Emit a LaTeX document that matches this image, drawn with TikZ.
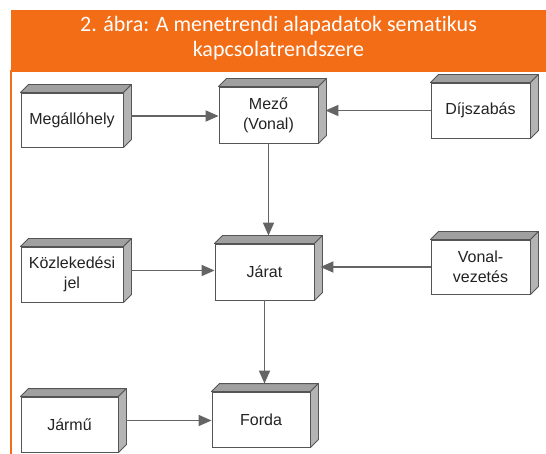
\documentclass[tikz,border=0pt]{standalone}
\usepackage{fontspec}
\setmainfont{Liberation Sans}
\newfontfamily\titlefont[Ligatures={NoCommon}]{Carlito}
\usetikzlibrary{arrows.meta}
\definecolor{hdr}{RGB}{243,108,22}
\definecolor{boxline}{RGB}{85,85,85}
\definecolor{topgray}{RGB}{160,160,160}
\definecolor{sidegray}{RGB}{180,180,180}
\definecolor{arrgray}{RGB}{100,100,100}
\definecolor{txt}{RGB}{35,35,35}
\tikzset{
  cube/.style={draw=boxline, line width=0.9pt, fill=white, inner sep=0pt,
    minimum width=99pt, minimum height=55pt, align=center, text=txt,
    font=\fontsize{16}{20}\selectfont},
  topface/.style={draw=boxline, line width=0.9pt, fill=topgray, line join=round},
  sideface/.style={draw=boxline, line width=0.9pt, fill=sidegray, line join=round},
  arr/.style={draw=arrgray, line width=1.8pt, -{Triangle[length=13pt,width=11pt]}},
  titletext/.style={text=white, align=center, font=\titlefont\fontsize{22}{25}\selectfont}
}
\begin{document}
\begin{tikzpicture}[x=1pt,y=-1pt]
\useasboundingbox (0,0) rectangle (546,454);
\fill[white] (0,0) rectangle (546,454);
% header
\fill[hdr] (11,10) rectangle (546,70);
\draw[hdr, line width=2.5pt] (11,454) -- (11,71) -- (546,71);
\node[titletext] (title) at (278.5,38) {2. ábra: A menetrendi alapadatok sematikus\\kapcsolatrendszere};
% boxes
\node[cube, minimum width=102pt, minimum height=54pt] (meg) at (72,120) {Megállóhely};
\node[cube, minimum width=99pt, minimum height=56pt] (mezo) at (268.5,115) {Mező\\(Vonal)};
\node[cube, minimum width=99pt, minimum height=55pt] (dij) at (480.5,110.5) {Díjszabás};
\node[cube, minimum width=102pt, minimum height=55pt] (koz) at (72,274.5) {Közlekedési\\jel};
\node[cube, minimum width=99pt, minimum height=56pt] (jarat) at (264.5,272) {Járat};
\node[cube, minimum width=99pt, minimum height=54pt] (vonal) at (480.5,267) {Vonal-\\vezetés};
\node[cube, minimum width=97pt, minimum height=55pt] (jarmu) at (69.5,424.5) {Jármű};
\node[cube, minimum width=98pt, minimum height=55pt] (forda) at (261,419.5) {Forda};
% 3D faces
\foreach \n in {meg,mezo,dij,koz,jarat,vonal,jarmu,forda}{
  \path[topface] (\n.north west) -- ++(8pt,8pt) -- ([shift={(8pt,8pt)}]\n.north east) -- (\n.north east) -- cycle;
  \path[sideface] (\n.north east) -- ++(8pt,8pt) -- ([shift={(8pt,8pt)}]\n.south east) -- (\n.south east) -- cycle;
}
% connector anchor points
\coordinate (megout) at ([shift={(8pt,4pt)}]meg.east);
\coordinate (kozout) at ([shift={(8pt,4pt)}]koz.east);
\coordinate (jarmuout) at ([shift={(8pt,4pt)}]jarmu.east);
\coordinate (mezoside) at ([xshift=7pt]mezo.east);
\coordinate (jaratside) at ([xshift=6pt]jarat.east);
\coordinate (jarattop) at ([yshift=8pt]jarat.north);
\coordinate (fordatop) at ([yshift=8pt]forda.north);
% connectors
\draw[arr] (megout) -- (megout -| mezo.west);
\draw[arr] (dij.west) -- (dij.west -| mezoside);
\draw[arr] (mezo.south) -- (mezo.south |- jarattop);
\draw[arr] (kozout) -- (kozout -| jarat.west);
\draw[arr] (vonal.west) -- (vonal.west -| jaratside);
\draw[arr] (jarat.south) -- (jarat.south |- fordatop);
\draw[arr] (jarmuout) -- (jarmuout -| forda.west);
\end{tikzpicture}
\end{document}
